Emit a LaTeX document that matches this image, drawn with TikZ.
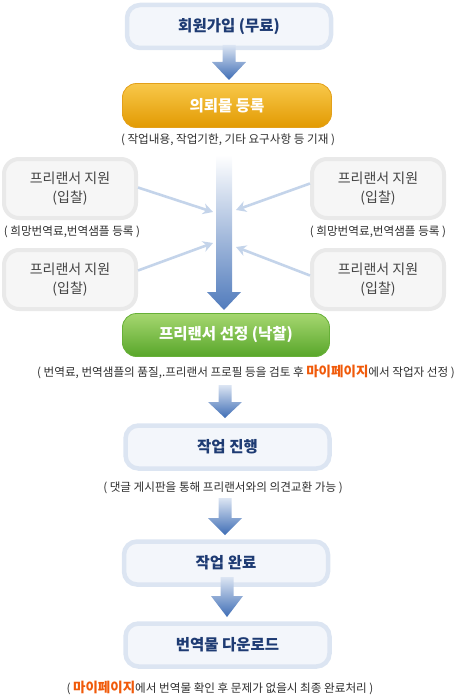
\documentclass[tikz,border=0pt]{standalone}
\usepackage{fontspec}
\setmainfont{Noto Sans CJK KR}
\usetikzlibrary{arrows.meta,calc}
\definecolor{bbord}{HTML}{DCE5F2}
\definecolor{bfill}{HTML}{F3F6FB}
\definecolor{btext}{HTML}{1E3B73}
\definecolor{gbord}{HTML}{E9E9E9}
\definecolor{gfill}{HTML}{F6F6F6}
\definecolor{gtext}{HTML}{444444}
\definecolor{ltext}{HTML}{2E2E2E}
\definecolor{mypage}{HTML}{F05A0A}
\definecolor{arrlight}{HTML}{C4D4EA}
\definecolor{arrtop}{HTML}{DCE5F3}
\definecolor{arrbot}{HTML}{3E6DB5}
\definecolor{otop}{HTML}{F8C84A}
\definecolor{obot}{HTML}{E29A02}
\definecolor{obord}{HTML}{E3A01A}
\definecolor{grtop}{HTML}{A6D770}
\definecolor{grbot}{HTML}{58A62A}
\definecolor{grbord}{HTML}{67B038}
\newcommand\flowarrow[5]{% src, dst, shaft half width, head half width, head length
  \shade[top color=arrtop, bottom color=arrbot]
    let \p1=(#1), \p2=(#2) in
    (\x1-#3pt,\y1) -- (\x1-#3pt,\y2+#5pt) -- (\x1-#4pt,\y2+#5pt) -- (\x1,\y2)
    -- (\x1+#4pt,\y2+#5pt) -- (\x1+#3pt,\y2+#5pt) -- (\x1+#3pt,\y1) -- cycle;}
\begin{document}
\begin{tikzpicture}[x=1pt,y=-1pt,
  bluebox/.style={draw=bbord, line width=4.5pt, fill=bfill, rounded corners=13pt,
    minimum width=204pt, minimum height=43pt, inner sep=0pt,
    font=\bfseries\fontsize{15.5}{18}\selectfont, text=btext},
  orangebox/.style={draw=obord, line width=0.8pt, top color=otop, bottom color=obot,
    rounded corners=14pt, minimum width=209pt, minimum height=44pt, inner sep=0pt,
    font=\bfseries\fontsize{15.5}{18}\selectfont, text=white},
  greenbox/.style={draw=grbord, line width=0.8pt, top color=grtop, bottom color=grbot,
    rounded corners=14pt, minimum width=207pt, minimum height=43pt, inner sep=0pt,
    font=\bfseries\fontsize{15.5}{18}\selectfont, text=white},
  graybox/.style={draw=gbord, line width=4pt, fill=gfill, rounded corners=15pt,
    minimum width=132pt, minimum height=59pt, inner sep=0pt, align=center,
    font=\fontsize{14}{19}\selectfont, text=gtext},
  note/.style={inner sep=0pt, font=\fontsize{11.6}{13}\selectfont, text=ltext},
  thinarrow/.style={draw=arrlight, line width=2.6pt, -{Stealth[length=10pt,width=11pt]}}
]
\useasboundingbox (0,0) rectangle (458,698);

% big central arrow (behind)
\coordinate (cs) at (224,155);
\coordinate (ce) at (224,310);
\shade[top color=white, bottom color=arrbot!90!white]
  let \p1=(cs), \p2=(ce) in
  (\x1-8pt,\y1) -- (\x1-8pt,\y2+18pt) -- (\x1-17pt,\y2+18pt) -- (\x1,\y2)
  -- (\x1+17pt,\y2+18pt) -- (\x1+8pt,\y2+18pt) -- (\x1+8pt,\y1) -- cycle;

% nodes
\node[bluebox] (b1) at (229,26.5) {회원가입 (무료)};
\node[orangebox] (b2) at (227,105.5) {의뢰물 등록};
\node[note] (n1) at (228,140) {( 작업내용, 작업기한, 기타 요구사항 등 기재 )};

\node[graybox] (L1) at (70,188.5) {프리랜서 지원\\(입찰)};
\node[note] (nL) at (72,232) {( 희망번역료,번역샘플 등록 )};
\node[graybox] (L2) at (70,279.5) {프리랜서 지원\\(입찰)};
\node[graybox] (R1) at (378,188.5) {프리랜서 지원\\(입찰)};
\node[note] (nR) at (378,232) {( 희망번역료,번역샘플 등록 )};
\node[graybox] (R2) at (378,279.5) {프리랜서 지원\\(입찰)};

\node[greenbox] (b3) at (226,335) {프리랜서 선정 (낙찰)};
\node[note] (n3) at (246,372) {( 번역료, 번역샘플의 품질,.프리랜서 프로필 등을 검토 후 {\bfseries\fontsize{13.5}{13}\selectfont\color{mypage}마이페이지}에서 작업자 선정 )};

\node[bluebox] (b4) at (227.5,447) {작업 진행};
\node[note] (n4) at (223,488) {( 댓글 게시판을 통해 프리랜서와의 의견교환 가능 )};
\node[bluebox] (b5) at (226,563) {작업 완료};
\node[bluebox] (b6) at (227.5,645) {번역물 다운로드};
\node[note] (n6) at (220,688) {( {\bfseries\fontsize{13.5}{13}\selectfont\color{mypage}마이페이지}에서 번역물 확인 후 문제가 없을시 최종 완료처리 )};

% thin incoming arrows
\coordinate (la) at (213,212);
\coordinate (lb) at (213,243);
\coordinate (ra) at (236,210);
\coordinate (rb) at (236,247);
\draw[thinarrow] ($(L1.east)+(0,-1)$) -- (la);
\draw[thinarrow] ($(L2.east)+(0,-9)$) -- (lb);
\draw[thinarrow] ($(R1.west)+(0,-5)$) -- (ra);
\draw[thinarrow] ($(R2.west)+(0,-4)$) -- (rb);

% block arrows
\coordinate (a1s) at (229,45);  \coordinate (a1e) at (229,80);
\coordinate (a3s) at (225,385); \coordinate (a3e) at (225,418);
\coordinate (a4s) at (225,498); \coordinate (a4e) at (225,535);
\coordinate (a5s) at (227,577); \coordinate (a5e) at (227,617);
\flowarrow{a1s}{a1e}{6.5}{17}{18}
\flowarrow{a3s}{a3e}{6.5}{17}{16}
\flowarrow{a4s}{a4e}{6.5}{17}{17}
\flowarrow{a5s}{a5e}{6.5}{16}{21}
\end{tikzpicture}
\end{document}
